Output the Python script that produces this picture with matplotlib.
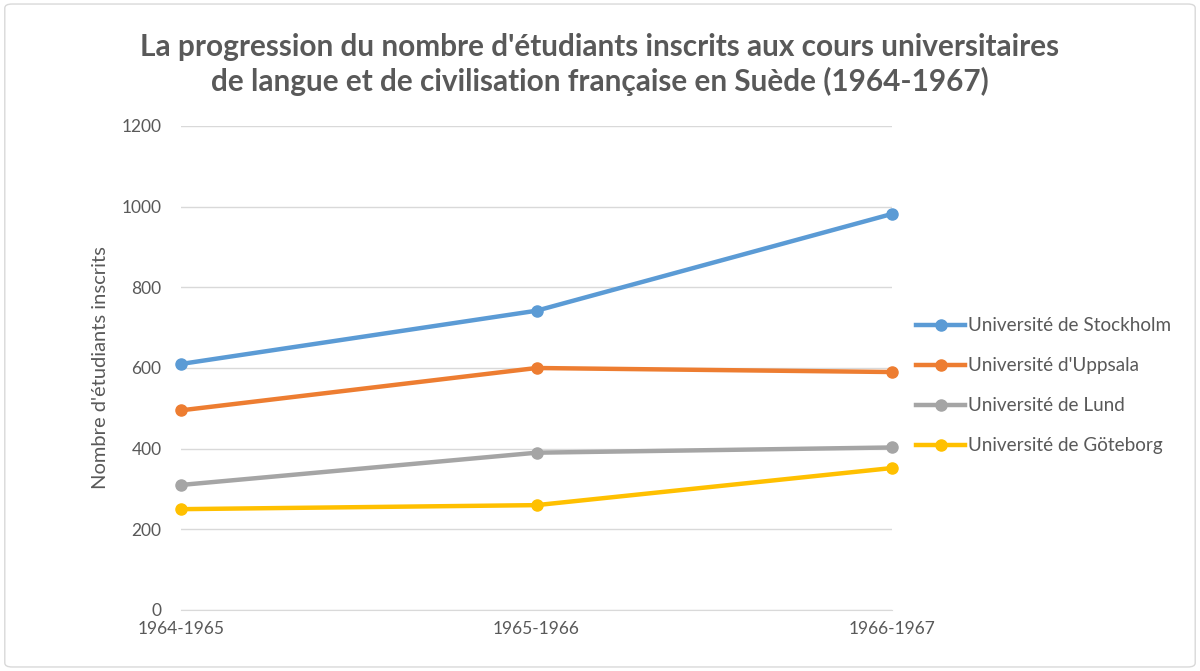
import matplotlib.pyplot as plt
from matplotlib.patches import FancyBboxPatch

plt.rcParams['font.family'] = ['Lato', 'DejaVu Sans']

# Données
annees = ['1964-1965', '1965-1966', '1966-1967']
stockholm = [610, 742, 982]
uppsala = [495, 600, 590]
lund = [310, 390, 403]
goteborg = [250, 260, 352]

series = [
    ('Université de Stockholm', stockholm, '#5B9BD5'),
    ("Université d'Uppsala", uppsala, '#ED7D31'),
    ('Université de Lund', lund, '#A5A5A5'),
    ('Université de Göteborg', goteborg, '#FFC000'),
]

gris = '#595959'

fig = plt.figure(figsize=(12, 6.71), dpi=100)
ax = fig.add_axes([181/1200, 1 - 610/671, (892-181)/1200, (610-126)/671])

x = range(len(annees))
for nom, vals, coul in series:
    ax.plot(x, vals, '-o', color=coul, linewidth=3.2, markersize=8, label=nom, clip_on=False)

ax.set_xlim(0, 2)
ax.set_ylim(0, 1200)
ax.set_yticks(range(0, 1201, 200))
ax.set_xticks(list(x))
ax.set_xticklabels(annees)
ax.grid(axis='y', color='#D9D9D9', linewidth=1)
ax.set_axisbelow(True)
for s in ['top', 'right', 'left']:
    ax.spines[s].set_visible(False)
ax.spines['bottom'].set_color('#D9D9D9')
ax.tick_params(axis='both', length=0, colors=gris, labelsize=12.5)
ax.tick_params(axis='x', pad=8)
ax.tick_params(axis='y', pad=14)
ax.set_ylabel("Nombre d'étudiants inscrits", color=gris, fontsize=14.5, labelpad=9)

fig.suptitle("La progression du nombre d'étudiants inscrits aux cours universitaires\n"
             "de langue et de civilisation française en Suède (1964-1967)",
             y=0.951, fontsize=21.4, fontweight='bold', color=gris, linespacing=1.25)

leg = ax.legend(loc='center left', bbox_to_anchor=(1.01, 0.463), frameon=False,
                fontsize=13.6, labelcolor=gris, handlelength=2.6, handletextpad=0.15,
                labelspacing=1.22)

cadre = FancyBboxPatch((0.004, 0.006), 0.992, 0.988, boxstyle='round,pad=0,rounding_size=0.006',
                       transform=fig.transFigure, facecolor='none', edgecolor='#D9D9D9', linewidth=1)
fig.patches.append(cadre)

fig.savefig('out.png', dpi=100)
